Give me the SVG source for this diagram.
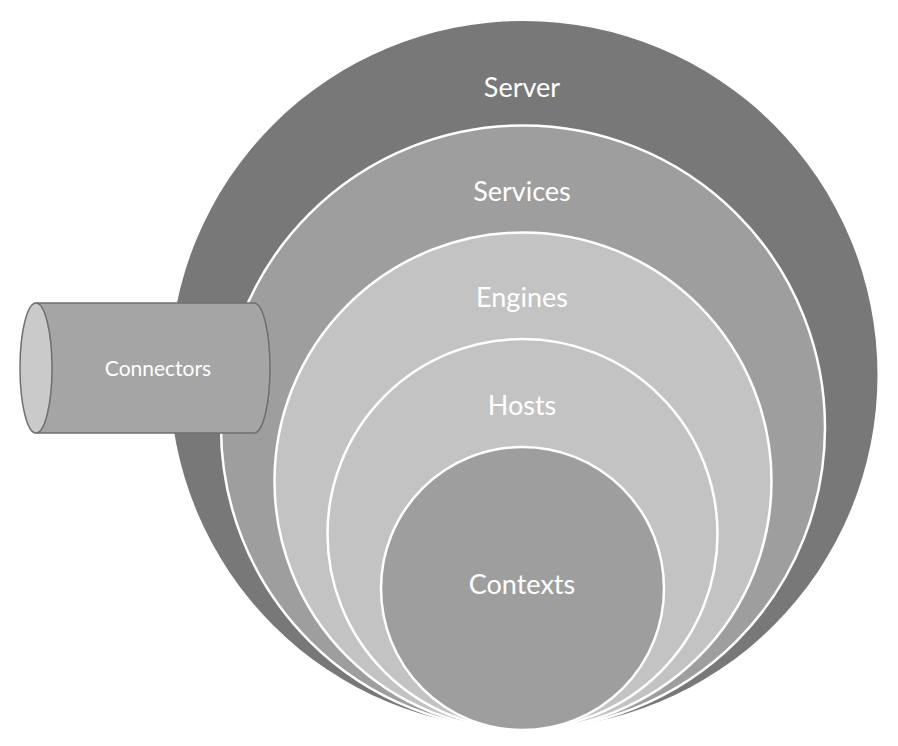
<svg xmlns="http://www.w3.org/2000/svg" width="898" height="746" viewBox="0 0 898 746">
  <style>
    .ring { stroke: #ffffff; stroke-width: 2.5; }
    .lbl { font-family: Lato, "Open Sans", "Liberation Sans", sans-serif; fill: #ffffff; text-anchor: middle; }
    .big { font-size: 27px; }
    .small { font-size: 21px; }
  </style>
  <rect width="898" height="746" fill="#ffffff"/>
  <g id="server">
    <circle cx="523.5" cy="375" r="354" fill="#787878"/>
    <text class="lbl big" x="522" y="97">Server</text>
  </g>
  <g id="services">
    <circle class="ring" cx="523" cy="427.5" r="302" fill="#9e9e9e"/>
    <text class="lbl big" x="522" y="201">Services</text>
  </g>
  <g id="engines">
    <circle class="ring" cx="523" cy="481" r="248.5" fill="#c3c3c3"/>
    <text class="lbl big" x="522" y="307">Engines</text>
  </g>
  <g id="hosts">
    <circle class="ring" cx="522.5" cy="534" r="195" fill="#c3c3c3"/>
    <text class="lbl big" x="522" y="415">Hosts</text>
  </g>
  <g id="contexts">
    <circle class="ring" cx="522.5" cy="588.5" r="141.5" fill="#9e9e9e"/>
    <text class="lbl big" x="522" y="594">Contexts</text>
  </g>
  <g id="connectors">
    <path d="M36,303 H254 A16,65 0 0 1 254,433 H36 Z" fill="#a5a5a5" stroke="#6f6f6f" stroke-width="1.5"/>
    <ellipse cx="36" cy="368" rx="16" ry="65" fill="#cacaca" stroke="#6f6f6f" stroke-width="1.5"/>
    <text class="lbl small" x="158" y="376">Connectors</text>
  </g>
  <g id="edges"></g>
</svg>
